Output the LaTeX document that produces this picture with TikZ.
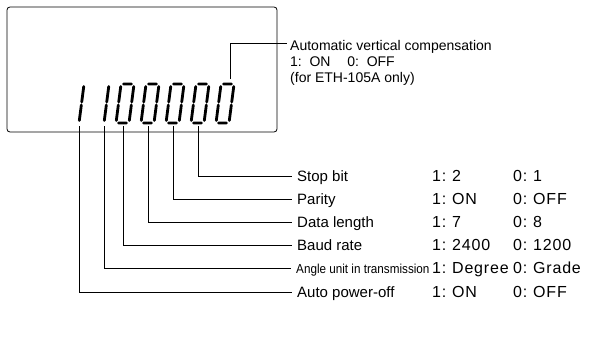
\documentclass[tikz,border=0pt]{standalone}
\usepackage{fontspec}
\setmainfont{Liberation Sans}
\begin{document}
\begin{tikzpicture}[x=1pt,y=-1pt,
  lead/.style={line width=0.9pt},
  seg/.style={line width=2.8pt, line cap=round},
  lbl/.style={anchor=base west, inner sep=0pt, font=\fontsize{15}{17}\selectfont},
  val/.style={anchor=base west, inner sep=0pt, font=\fontsize{16}{18}\selectfont\addfontfeature{LetterSpace=5}},
  small/.style={anchor=base west, inner sep=0pt, font=\fontsize{13}{15}\selectfont},
  top/.style={anchor=base west, inner sep=0pt, font=\fontsize{14}{16}\selectfont},
]
\useasboundingbox (0,0) rectangle (595,340);
% display frame
\draw[line width=0.8pt, rounded corners=3pt] (7,7) rectangle (277,132);
% seven-segment digits
\newcommand\digitone[1]{%
  \begin{scope}[shift={(#1,123)}, xslant=0.13]
    \draw[seg] (13,-36.5) -- (13,-21) (13,-18) -- (13,-2.5);
  \end{scope}}
\newcommand\digitzero[1]{%
  \begin{scope}[shift={(#1,123)}, xslant=0.13]
    \draw[seg] (2.5,-39) -- (10.5,-39) (2.5,0) -- (10.5,0)
      (0,-36.5) -- (0,-21) (0,-18) -- (0,-2.5)
      (13,-36.5) -- (13,-21) (13,-18) -- (13,-2.5);
  \end{scope}}
\digitone{66}
\digitone{91}
\digitzero{116}
\digitzero{141}
\digitzero{166}
\digitzero{191}
\digitzero{216}
% leader start points
\coordinate (d1) at (79,126);
\coordinate (d2) at (104,126);
\coordinate (d3) at (123,126);
\coordinate (d4) at (148,126);
\coordinate (d5) at (173,126);
\coordinate (d6) at (198,126);
\coordinate (d7) at (230,79);
% top label
\node[top] (avc) at (290,50) {Automatic vertical compensation};
\node[top] (avc2) at (290,66) {1:\hspace{0.55em}ON\hspace{1.2em}0:\hspace{0.55em}OFF};
\node[top] (avc3) at (290,82) {(for ETH-105A only)};
\draw[lead] (d7) |- ([xshift=-3pt,yshift=7pt]avc.base west);
% rows
\node[lbl] (stop) at (297,181) {Stop bit};
\node[lbl] (par) at (297,204) {Parity};
\node[lbl] (dat) at (297,227) {Data length};
\node[lbl] (baud) at (297,250) {Baud rate};
\node[small] (ang) at (296,273) {\scalebox{0.9}[1]{Angle unit in transmission}};
\node[lbl] (auto) at (297,297) {Auto power-off};
% values
\foreach \n/\y/\a/\b in {stopv/181/2/1, parv/204/ON/OFF, datv/227/7/8, baudv/250/2400/1200, angv/273/Degree/Grade, autov/297/ON/OFF}{
  \node[val] (\n k1) at (432,\y) {1:};
  \node[val] (\n a) at (452,\y) {\a};
  \node[val] (\n k0) at (513,\y) {0:};
  \node[val] (\n b) at (533,\y) {\b};
}
% leaders
\draw[lead] (d6) |- ([xshift=-5pt,yshift=5pt]stop.base west);
\draw[lead] (d5) |- ([xshift=-5pt,yshift=5pt]par.base west);
\draw[lead] (d4) |- ([xshift=-5pt,yshift=5pt]dat.base west);
\draw[lead] (d3) |- ([xshift=-5pt,yshift=5pt]baud.base west);
\draw[lead] (d2) |- ([xshift=-5pt,yshift=5pt]ang.base west);
\draw[lead] (d1) |- ([xshift=-5pt,yshift=5pt]auto.base west);
\end{tikzpicture}
\end{document}
